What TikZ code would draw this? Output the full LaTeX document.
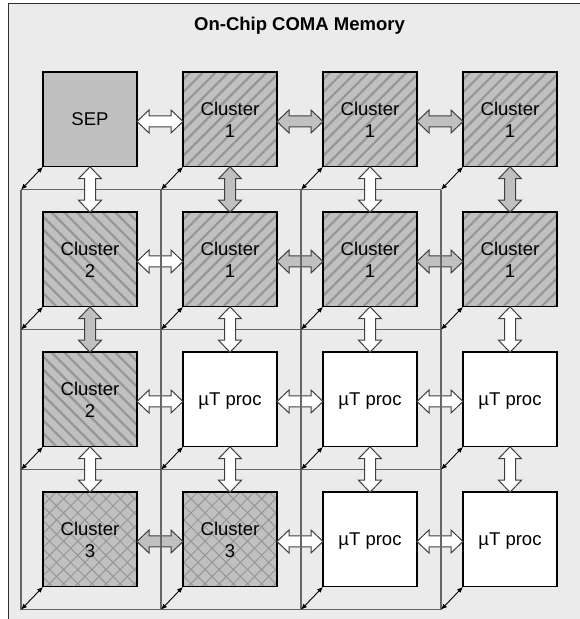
\documentclass[tikz,border=0pt]{standalone}
\usepackage{fontspec}
\setmainfont{Liberation Sans}
\usetikzlibrary{patterns.meta,calc,arrows.meta}
\definecolor{bg}{HTML}{EBEBEB}
\definecolor{boxgray}{HTML}{C0C0C0}
\definecolor{hatchgray}{HTML}{969696}
\definecolor{gridgray}{HTML}{666666}
\definecolor{arrowedge}{HTML}{404040}
\definecolor{framecol}{HTML}{303030}
\newcommand\harr[3]{\path[blockarrow,fill=#3] let \p1=($(#1.east)+(0,-2)$), \p2=($(#2.west)+(0,-2)$) in
  (\x1,\y1) -- (\x1+12pt,\y1+11.5pt) -- (\x1+12pt,\y1+5.5pt) -- (\x2-12pt,\y1+5.5pt) -- (\x2-12pt,\y1+11.5pt) -- (\x2,\y1)
  -- (\x2-12pt,\y1-11.5pt) -- (\x2-12pt,\y1-5.5pt) -- (\x1+12pt,\y1-5.5pt) -- (\x1+12pt,\y1-11.5pt) -- cycle;}
\newcommand\varr[3]{\path[blockarrow,fill=#3] let \p1=(#1.south), \p2=(#2.north) in
  (\x1,\y1) -- (\x1+11.5pt,\y1-12pt) -- (\x1+5.5pt,\y1-12pt) -- (\x1+5.5pt,\y2+12pt) -- (\x1+11.5pt,\y2+12pt) -- (\x1,\y2)
  -- (\x1-11.5pt,\y2+12pt) -- (\x1-5.5pt,\y2+12pt) -- (\x1-5.5pt,\y1-12pt) -- (\x1-11.5pt,\y1-12pt) -- cycle;}
\begin{document}
\begin{tikzpicture}[x=1pt,y=1pt,
  box/.style={draw=black,line width=1.5pt,minimum width=94pt,minimum height=94.5pt,inner sep=0pt,outer sep=0pt,font=\fontsize{18.5}{22}\selectfont},
  sepbox/.style={box,fill=boxgray,text depth=0pt},
  clusterA/.style={box,align=center,preaction={fill=boxgray},pattern={Lines[angle=45,distance=9pt,line width=2.2pt]},pattern color=hatchgray},
  clusterB/.style={box,align=center,preaction={fill=boxgray},pattern={Lines[angle=-45,distance=9pt,line width=2.2pt]},pattern color=hatchgray},
  clusterC/.style={box,align=center,preaction={fill=boxgray},pattern={Hatch[angle=45,distance=10pt,line width=1pt]},pattern color=hatchgray},
  procbox/.style={box,fill=white,text depth=0pt},
  gridline/.style={draw=gridgray,line width=1.3pt},
  corner/.style={draw=black,line width=0.9pt,{Latex[length=6pt,width=5pt]}-{Latex[length=6pt,width=5pt]}},
  blockarrow/.style={draw=arrowedge,line width=1pt,line join=miter}]
\useasboundingbox (0,0) rectangle (580,619);
\clip (0,0) rectangle (580,619);
\fill[white] (0,0) rectangle (580,619);
\draw[draw=framecol,line width=1.6pt,fill=bg] (8.5,615.5) rectangle (620,-30);
\node[font=\bfseries\fontsize{18.5}{22}\selectfont,anchor=base] (title) at (299.5,588) {On-Chip COMA Memory};
% row 1
\node[sepbox]   (n11) at (90,499.5)  {SEP};
\node[clusterA] (n12) at (230,499.5) {Cluster\\1};
\node[clusterA] (n13) at (370,499.5) {Cluster\\1};
\node[clusterA] (n14) at (510,499.5) {Cluster\\1};
% row 2
\node[clusterB] (n21) at (90,359.5)  {Cluster\\2};
\node[clusterA] (n22) at (230,359.5) {Cluster\\1};
\node[clusterA] (n23) at (370,359.5) {Cluster\\1};
\node[clusterA] (n24) at (510,359.5) {Cluster\\1};
% row 3
\node[clusterB] (n31) at (90,219.5)  {Cluster\\2};
\node[procbox]  (n32) at (230,219.5) {µT proc};
\node[procbox]  (n33) at (370,219.5) {µT proc};
\node[procbox]  (n34) at (510,219.5) {µT proc};
% row 4
\node[clusterC] (n41) at (90,79.5)   {Cluster\\3};
\node[clusterC] (n42) at (230,79.5)  {Cluster\\3};
\node[procbox]  (n43) at (370,79.5)  {µT proc};
\node[procbox]  (n44) at (510,79.5)  {µT proc};
% corner coordinates
\foreach \r in {1,2,3,4}{\foreach \c in {1,2,3,4}{
  \coordinate (k\r\c) at ($(n\r\c.south west)+(-22,-23)$);}}
% horizontal block arrows
\harr{n11}{n12}{white}
\harr{n12}{n13}{boxgray}
\harr{n13}{n14}{boxgray}
\harr{n21}{n22}{white}
\harr{n22}{n23}{boxgray}
\harr{n23}{n24}{boxgray}
\harr{n31}{n32}{white}
\harr{n32}{n33}{white}
\harr{n33}{n34}{white}
\harr{n41}{n42}{boxgray}
\harr{n42}{n43}{white}
\harr{n43}{n44}{white}
% grid lines
\foreach \r in {1,2,3,4}{\draw[gridline] (k\r1) -- (k\r4);}
\foreach \c in {1,2,3,4}{\draw[gridline] (k1\c) -- (k4\c);}
% corner arrows
\foreach \r in {1,2,3,4}{\foreach \c in {1,2,3,4}{
  \draw[corner] (k\r\c) -- (n\r\c.south west);}}
% vertical block arrows
\varr{n11}{n21}{white}
\varr{n12}{n22}{boxgray}
\varr{n13}{n23}{white}
\varr{n14}{n24}{boxgray}
\varr{n21}{n31}{boxgray}
\varr{n22}{n32}{white}
\varr{n23}{n33}{white}
\varr{n24}{n34}{white}
\varr{n31}{n41}{white}
\varr{n32}{n42}{white}
\varr{n33}{n43}{white}
\varr{n34}{n44}{white}
\end{tikzpicture}
\end{document}
